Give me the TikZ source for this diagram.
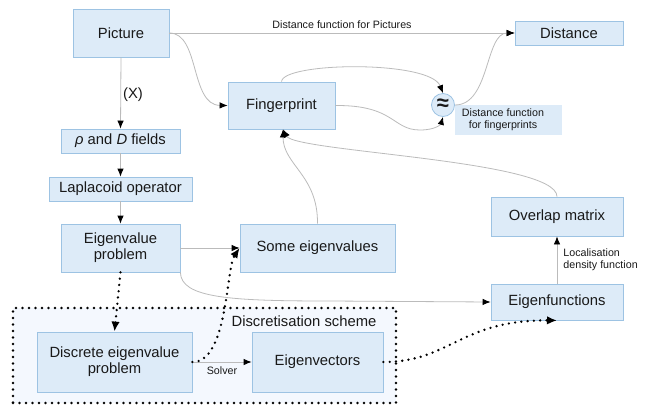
\documentclass[tikz,border=0pt]{standalone}
\usepackage{fontspec}
\setmainfont{Liberation Sans}
\usetikzlibrary{arrows.meta}
\definecolor{boxfill}{HTML}{DDEBF8}
\definecolor{boxline}{HTML}{9DC3E3}
\definecolor{schemefill}{HTML}{F4F8FE}
\definecolor{conn}{HTML}{BBBBBB}
\tikzset{
  box/.style={draw=boxline, fill=boxfill, line width=0.8pt, inner sep=0pt, align=center, font=\fontsize{14.8}{16.3}\selectfont, text=black!90},
  lbl/.style={font=\fontsize{10.7}{12}\selectfont, inner sep=0pt, text=black!90},
  thin/.style={draw=conn, line width=0.8pt, -{Latex[length=8pt,width=6.5pt,black]}},
  dots/.style={draw=black, line width=2.6pt, line cap=round, dash pattern=on 0pt off 6.3pt, -{Latex[length=10pt,width=8.5pt,black]}},
}
\begin{document}
\begin{tikzpicture}[x=1pt,y=-1pt]
\useasboundingbox (0,0) rectangle (646,405);
% discretisation scheme frame
\node[draw=black, fill=schemefill, line width=2.6pt, line cap=round, dash pattern=on 0pt off 6.5pt, minimum width=383pt, minimum height=95pt, inner sep=0pt] (scheme) at (204.5,355.5) {};
\node[lbl, font=\fontsize{14.8}{16}\selectfont] (schemelbl) at (304,321) {Discretisation scheme};

\node[box, minimum width=96pt, minimum height=48pt] (pic) at (121,33) {Picture};
\node[box, minimum width=108pt, minimum height=24pt] (dist) at (569,33) {Distance};
\node[box, minimum width=107pt, minimum height=47pt] (fp) at (281.5,105.5) {Fingerprint};
\node[box, circle, minimum size=23pt, font=\fontsize{22}{22}\bfseries\selectfont] (approx) at (443,105) {≈};
\node[box, draw=none, minimum width=107pt, minimum height=30pt, font=\fontsize{10.7}{12.5}\selectfont] (dflbl) at (508.5,120) {\begin{tabular}{@{}c@{}}Distance function\\for fingerprints\end{tabular}\hspace*{11pt}};
\node[box, minimum width=119pt, minimum height=24pt] (rho) at (120.5,141) {\textit{ρ} and \textit{D} fields};
\node[box, minimum width=143pt, minimum height=24pt] (lap) at (120.5,189) {Laplacoid operator};
\node[box, minimum width=119pt, minimum height=48pt] (evp) at (120.5,248) {Eigenvalue\\problem};
\node[box, minimum width=155pt, minimum height=48pt] (some) at (317.5,248) {Some eigenvalues};
\node[box, minimum width=132pt, minimum height=39pt] (ovl) at (557,216.5) {Overlap matrix};
\node[box, minimum width=132pt, minimum height=36pt] (efun) at (557,302) {Eigenfunctions};
\node[box, minimum width=155pt, minimum height=60pt] (devp) at (114.5,362) {Discrete eigenvalue\\problem};
\node[box, minimum width=131pt, minimum height=60pt] (evec) at (317.5,362) {Eigenvectors};

% connectors
\draw[thin] (pic.east) -- node[lbl, above=4pt, pos=0.5] {Distance function for Pictures} (dist.west);
\draw[thin] (pic.east) .. controls (200,33) and (190,105) .. (fp.west);
\draw[thin] (pic.south) -- node[lbl, font=\fontsize{14.8}{16}\selectfont, right=2pt, pos=0.52] {(X)} (rho.north);
\draw[thin] (rho.south) -- (lap.north);
\draw[thin] (lap.south) -- (evp.north);
\draw[thin] (fp.north) .. controls (283,62) and (430,60) .. (approx.north);
\draw[thin] (fp.east) .. controls (395,105) and (392,130) .. (420,130) .. controls (436,130) and (441,124) .. (approx.south);
\draw[thin] (approx.east) .. controls (490,105) and (485,33) .. (dist.west);
\draw[thin] (ovl.north) .. controls (557,160) and (295,152) .. ([xshift=1.5pt]fp.south);
\draw[thin] (some.north) .. controls (318,175) and (283,165) .. ([xshift=1.5pt]fp.south);
\draw[thin] (evp.east) -- (some.west);
\draw[thin] (evp.south east) .. controls (181,298) and (230,301) .. (330,301) -- (efun.west);
\draw[thin] (efun.north) -- node[lbl, right=6pt, align=left, pos=0.5] {Localisation\\density function} (ovl.south);
\draw[thin] (devp.east) -- node[lbl, below=4pt] {Solver} (evec.west);
\draw[dots] (evp.south) -- (devp.north);
\draw[dots] (devp.east) .. controls (228,362) and (226,268) .. (some.west);
\draw[dots] (evec.east) .. controls (450,362) and (460,320) .. (efun.south);
\end{tikzpicture}
\end{document}
